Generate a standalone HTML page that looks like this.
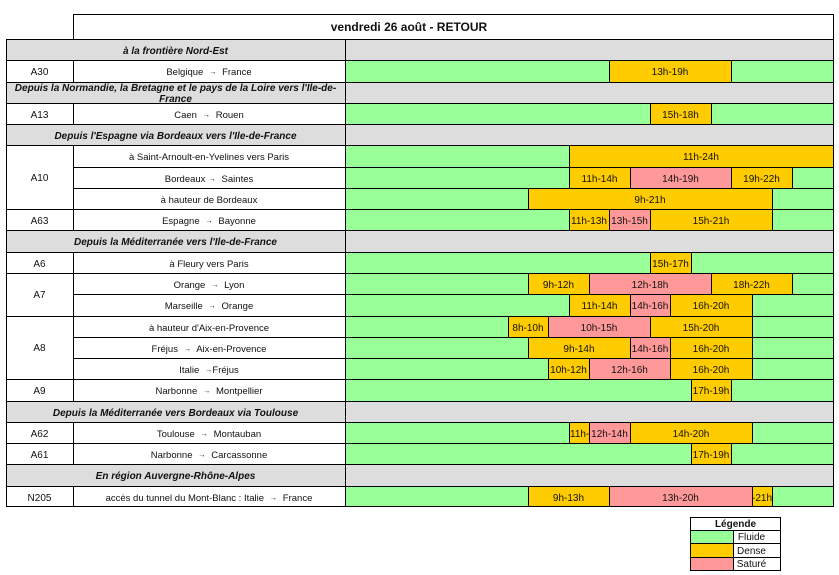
<!DOCTYPE html>
<html><head><meta charset="utf-8">
<style>
body{margin:0;width:839px;height:575px;background:#fff;position:relative;overflow:hidden;font-family:"Liberation Sans",Arial,sans-serif;color:#111}
.a{position:absolute}
.t{position:absolute;text-align:center;white-space:nowrap;overflow:hidden;font-size:10px}
.c2{font-size:9.5px}
.hd{font-weight:bold;font-style:italic;font-size:10px}
.g{background:#dddddd}
.gr{background:#99ff99}
.o{background:#ffcc00}
.p{background:#ff9999}
.l{position:absolute;background:#000}
.ar{font-size:7.5px;margin:0 3px;line-height:0;position:relative;top:-1px}
</style></head><body>

<!-- title -->
<div class="l" style="left:73px;top:14px;width:761px;height:1px"></div>
<div class="l" style="left:73px;top:14px;width:1px;height:25px"></div>
<div class="l" style="left:833px;top:14px;width:1px;height:25px"></div>
<div class="t" style="left:300px;top:20px;width:218px;height:15px;line-height:15px;font-size:12px;font-weight:bold">vendredi 26 août - RETOUR</div>

<!-- base fills -->
<div class="a gr" style="left:345px;top:39px;width:488px;height:468px"></div>
<div class="a g" style="left:6px;top:39px;width:827px;height:21px"></div>
<div class="a g" style="left:6px;top:82px;width:827px;height:21px"></div>
<div class="a g" style="left:6px;top:124px;width:827px;height:21px"></div>
<div class="a g" style="left:6px;top:230px;width:827px;height:22px"></div>
<div class="a g" style="left:6px;top:401px;width:827px;height:21px"></div>
<div class="a g" style="left:6px;top:464px;width:827px;height:22px"></div>

<!-- segments -->
<div class="t o" style="left:609px;top:60px;width:122px;height:22px;line-height:26px">13h-19h</div>
<div class="t o" style="left:650px;top:103px;width:61px;height:21px;line-height:25px">15h-18h</div>
<div class="t o" style="left:569px;top:145px;width:264px;height:22px;line-height:26px">11h-24h</div>
<div class="t o" style="left:569px;top:167px;width:61px;height:21px;line-height:25px">11h-14h</div>
<div class="t p" style="left:630px;top:167px;width:101px;height:21px;line-height:25px">14h-19h</div>
<div class="t o" style="left:731px;top:167px;width:61px;height:21px;line-height:25px">19h-22h</div>
<div class="t o" style="left:528px;top:188px;width:244px;height:21px;line-height:25px">9h-21h</div>
<div class="t o" style="left:569px;top:209px;width:40px;height:21px;line-height:25px">11h-13h</div>
<div class="t p" style="left:609px;top:209px;width:41px;height:21px;line-height:25px">13h-15h</div>
<div class="t o" style="left:650px;top:209px;width:122px;height:21px;line-height:25px">15h-21h</div>
<div class="t o" style="left:650px;top:252px;width:41px;height:21px;line-height:25px">15h-17h</div>
<div class="t o" style="left:528px;top:273px;width:61px;height:21px;line-height:25px">9h-12h</div>
<div class="t p" style="left:589px;top:273px;width:122px;height:21px;line-height:25px">12h-18h</div>
<div class="t o" style="left:711px;top:273px;width:81px;height:21px;line-height:25px">18h-22h</div>
<div class="t o" style="left:569px;top:294px;width:61px;height:22px;line-height:26px">11h-14h</div>
<div class="t p" style="left:630px;top:294px;width:40px;height:22px;line-height:26px">14h-16h</div>
<div class="t o" style="left:670px;top:294px;width:82px;height:22px;line-height:26px">16h-20h</div>
<div class="t o" style="left:508px;top:316px;width:40px;height:21px;line-height:25px">8h-10h</div>
<div class="t p" style="left:548px;top:316px;width:102px;height:21px;line-height:25px">10h-15h</div>
<div class="t o" style="left:650px;top:316px;width:102px;height:21px;line-height:25px">15h-20h</div>
<div class="t o" style="left:528px;top:337px;width:102px;height:21px;line-height:25px">9h-14h</div>
<div class="t p" style="left:630px;top:337px;width:40px;height:21px;line-height:25px">14h-16h</div>
<div class="t o" style="left:670px;top:337px;width:82px;height:21px;line-height:25px">16h-20h</div>
<div class="t o" style="left:548px;top:358px;width:41px;height:21px;line-height:25px">10h-12h</div>
<div class="t p" style="left:589px;top:358px;width:81px;height:21px;line-height:25px">12h-16h</div>
<div class="t o" style="left:670px;top:358px;width:82px;height:21px;line-height:25px">16h-20h</div>
<div class="t o" style="left:691px;top:379px;width:40px;height:22px;line-height:26px">17h-19h</div>
<div class="t o" style="left:569px;top:422px;width:20px;height:21px;line-height:25px;text-align:left;padding-left:1px;box-sizing:border-box">11h-12h</div>
<div class="t p" style="left:589px;top:422px;width:41px;height:21px;line-height:25px">12h-14h</div>
<div class="t o" style="left:630px;top:422px;width:122px;height:21px;line-height:25px">14h-20h</div>
<div class="t o" style="left:691px;top:443px;width:40px;height:21px;line-height:25px">17h-19h</div>
<div class="t o" style="left:528px;top:486px;width:81px;height:21px;line-height:25px">9h-13h</div>
<div class="t p" style="left:609px;top:486px;width:143px;height:21px;line-height:25px">13h-20h</div>
<div class="t o" style="left:752px;top:486px;width:20px;height:21px;line-height:25px;direction:rtl;text-align:right"><span style="direction:ltr;unicode-bidi:embed">-21h</span></div>

<!-- segment vertical lines -->
<div class="l" style="left:609px;top:60px;width:1px;height:22px"></div>
<div class="l" style="left:731px;top:60px;width:1px;height:22px"></div>
<div class="l" style="left:650px;top:103px;width:1px;height:21px"></div>
<div class="l" style="left:711px;top:103px;width:1px;height:21px"></div>
<div class="l" style="left:569px;top:145px;width:1px;height:22px"></div>
<div class="l" style="left:569px;top:167px;width:1px;height:21px"></div>
<div class="l" style="left:630px;top:167px;width:1px;height:21px"></div>
<div class="l" style="left:731px;top:167px;width:1px;height:21px"></div>
<div class="l" style="left:792px;top:167px;width:1px;height:21px"></div>
<div class="l" style="left:528px;top:188px;width:1px;height:21px"></div>
<div class="l" style="left:772px;top:188px;width:1px;height:21px"></div>
<div class="l" style="left:569px;top:209px;width:1px;height:21px"></div>
<div class="l" style="left:609px;top:209px;width:1px;height:21px"></div>
<div class="l" style="left:650px;top:209px;width:1px;height:21px"></div>
<div class="l" style="left:772px;top:209px;width:1px;height:21px"></div>
<div class="l" style="left:650px;top:252px;width:1px;height:21px"></div>
<div class="l" style="left:691px;top:252px;width:1px;height:21px"></div>
<div class="l" style="left:528px;top:273px;width:1px;height:21px"></div>
<div class="l" style="left:589px;top:273px;width:1px;height:21px"></div>
<div class="l" style="left:711px;top:273px;width:1px;height:21px"></div>
<div class="l" style="left:792px;top:273px;width:1px;height:21px"></div>
<div class="l" style="left:569px;top:294px;width:1px;height:22px"></div>
<div class="l" style="left:630px;top:294px;width:1px;height:22px"></div>
<div class="l" style="left:670px;top:294px;width:1px;height:22px"></div>
<div class="l" style="left:752px;top:294px;width:1px;height:22px"></div>
<div class="l" style="left:508px;top:316px;width:1px;height:21px"></div>
<div class="l" style="left:548px;top:316px;width:1px;height:21px"></div>
<div class="l" style="left:650px;top:316px;width:1px;height:21px"></div>
<div class="l" style="left:752px;top:316px;width:1px;height:21px"></div>
<div class="l" style="left:528px;top:337px;width:1px;height:21px"></div>
<div class="l" style="left:630px;top:337px;width:1px;height:21px"></div>
<div class="l" style="left:670px;top:337px;width:1px;height:21px"></div>
<div class="l" style="left:752px;top:337px;width:1px;height:21px"></div>
<div class="l" style="left:548px;top:358px;width:1px;height:21px"></div>
<div class="l" style="left:589px;top:358px;width:1px;height:21px"></div>
<div class="l" style="left:670px;top:358px;width:1px;height:21px"></div>
<div class="l" style="left:752px;top:358px;width:1px;height:21px"></div>
<div class="l" style="left:691px;top:379px;width:1px;height:22px"></div>
<div class="l" style="left:731px;top:379px;width:1px;height:22px"></div>
<div class="l" style="left:569px;top:422px;width:1px;height:21px"></div>
<div class="l" style="left:589px;top:422px;width:1px;height:21px"></div>
<div class="l" style="left:630px;top:422px;width:1px;height:21px"></div>
<div class="l" style="left:752px;top:422px;width:1px;height:21px"></div>
<div class="l" style="left:691px;top:443px;width:1px;height:21px"></div>
<div class="l" style="left:731px;top:443px;width:1px;height:21px"></div>
<div class="l" style="left:528px;top:486px;width:1px;height:21px"></div>
<div class="l" style="left:609px;top:486px;width:1px;height:21px"></div>
<div class="l" style="left:752px;top:486px;width:1px;height:21px"></div>
<div class="l" style="left:772px;top:486px;width:1px;height:21px"></div>

<!-- header texts -->
<div class="t hd" style="left:6px;top:39px;width:339px;height:21px;line-height:25px">à la frontière Nord-Est</div>
<div class="t hd" style="left:6px;top:83px;width:339px;height:20px;line-height:10.5px;padding-top:1px;box-sizing:border-box">Depuis la Normandie, la Bretagne et le pays de la Loire vers l'Ile-de-<br>France</div>
<div class="t hd" style="left:6px;top:124px;width:339px;height:21px;line-height:25px">Depuis l'Espagne via Bordeaux vers l'Ile-de-France</div>
<div class="t hd" style="left:6px;top:230px;width:339px;height:22px;line-height:26px">Depuis la Méditerranée vers l'Ile-de-France</div>
<div class="t hd" style="left:6px;top:401px;width:339px;height:21px;line-height:25px">Depuis la Méditerranée vers Bordeaux via Toulouse</div>
<div class="t hd" style="left:6px;top:464px;width:339px;height:22px;line-height:26px">En région Auvergne-Rhône-Alpes</div>

<!-- column 1 labels -->
<div class="t" style="left:6px;top:60px;width:67px;height:22px;line-height:26px">A30</div>
<div class="t" style="left:6px;top:103px;width:67px;height:21px;line-height:25px">A13</div>
<div class="t" style="left:6px;top:145px;width:67px;height:64px;line-height:67px">A10</div>
<div class="t" style="left:6px;top:209px;width:67px;height:21px;line-height:25px">A63</div>
<div class="t" style="left:6px;top:252px;width:67px;height:21px;line-height:25px">A6</div>
<div class="t" style="left:6px;top:273px;width:67px;height:43px;line-height:46px">A7</div>
<div class="t" style="left:6px;top:316px;width:67px;height:63px;line-height:66px">A8</div>
<div class="t" style="left:6px;top:379px;width:67px;height:22px;line-height:26px">A9</div>
<div class="t" style="left:6px;top:422px;width:67px;height:21px;line-height:25px">A62</div>
<div class="t" style="left:6px;top:443px;width:67px;height:21px;line-height:25px">A61</div>
<div class="t" style="left:6px;top:486px;width:67px;height:21px;line-height:25px">N205</div>

<!-- column 2 texts -->
<div class="t c2" style="left:73px;top:60px;width:272px;height:22px;line-height:26px">Belgique <span class="ar">→</span> France</div>
<div class="t c2" style="left:73px;top:103px;width:272px;height:21px;line-height:25px">Caen <span class="ar">→</span> Rouen</div>
<div class="t c2" style="left:73px;top:145px;width:272px;height:22px;line-height:26px">à Saint-Arnoult-en-Yvelines vers Paris</div>
<div class="t c2" style="left:73px;top:167px;width:272px;height:21px;line-height:25px">Bordeaux<span class="ar">→</span> Saintes</div>
<div class="t c2" style="left:73px;top:188px;width:272px;height:21px;line-height:25px">à hauteur de Bordeaux</div>
<div class="t c2" style="left:73px;top:209px;width:272px;height:21px;line-height:25px">Espagne <span class="ar">→</span> Bayonne</div>
<div class="t c2" style="left:73px;top:252px;width:272px;height:21px;line-height:25px">à Fleury vers Paris</div>
<div class="t c2" style="left:73px;top:273px;width:272px;height:21px;line-height:25px">Orange <span class="ar">→</span> Lyon</div>
<div class="t c2" style="left:73px;top:294px;width:272px;height:22px;line-height:26px">Marseille <span class="ar">→</span> Orange</div>
<div class="t c2" style="left:73px;top:316px;width:272px;height:21px;line-height:25px">à hauteur d'Aix-en-Provence</div>
<div class="t c2" style="left:73px;top:337px;width:272px;height:21px;line-height:25px">Fréjus <span class="ar">→</span> Aix-en-Provence</div>
<div class="t c2" style="left:73px;top:358px;width:272px;height:21px;line-height:25px">Italie <span class="ar" style="margin-right:0">→</span>Fréjus</div>
<div class="t c2" style="left:73px;top:379px;width:272px;height:22px;line-height:26px">Narbonne <span class="ar">→</span> Montpellier</div>
<div class="t c2" style="left:73px;top:422px;width:272px;height:21px;line-height:25px">Toulouse <span class="ar">→</span> Montauban</div>
<div class="t c2" style="left:73px;top:443px;width:272px;height:21px;line-height:25px">Narbonne <span class="ar">→</span> Carcassonne</div>
<div class="t c2" style="left:73px;top:486px;width:272px;height:21px;line-height:25px">accès du tunnel du Mont-Blanc : Italie <span class="ar">→</span> France</div>

<!-- horizontal row lines -->
<div class="l" style="left:6px;top:39px;width:828px;height:1px"></div>
<div class="l" style="left:6px;top:60px;width:828px;height:1px"></div>
<div class="l" style="left:6px;top:82px;width:828px;height:1px"></div>
<div class="l" style="left:6px;top:103px;width:828px;height:1px"></div>
<div class="l" style="left:6px;top:124px;width:828px;height:1px"></div>
<div class="l" style="left:6px;top:145px;width:828px;height:1px"></div>
<div class="l" style="left:73px;top:167px;width:761px;height:1px"></div>
<div class="l" style="left:73px;top:188px;width:761px;height:1px"></div>
<div class="l" style="left:6px;top:209px;width:828px;height:1px"></div>
<div class="l" style="left:6px;top:230px;width:828px;height:1px"></div>
<div class="l" style="left:6px;top:252px;width:828px;height:1px"></div>
<div class="l" style="left:6px;top:273px;width:828px;height:1px"></div>
<div class="l" style="left:73px;top:294px;width:761px;height:1px"></div>
<div class="l" style="left:6px;top:316px;width:828px;height:1px"></div>
<div class="l" style="left:73px;top:337px;width:761px;height:1px"></div>
<div class="l" style="left:73px;top:358px;width:761px;height:1px"></div>
<div class="l" style="left:6px;top:379px;width:828px;height:1px"></div>
<div class="l" style="left:6px;top:401px;width:828px;height:1px"></div>
<div class="l" style="left:6px;top:422px;width:828px;height:1px"></div>
<div class="l" style="left:6px;top:443px;width:828px;height:1px"></div>
<div class="l" style="left:6px;top:464px;width:828px;height:1px"></div>
<div class="l" style="left:6px;top:486px;width:828px;height:1px"></div>
<div class="l" style="left:6px;top:506px;width:828px;height:1px"></div>

<!-- vertical lines -->
<div class="l" style="left:6px;top:39px;width:1px;height:468px"></div>
<div class="l" style="left:833px;top:39px;width:1px;height:468px"></div>
<div class="l" style="left:345px;top:39px;width:1px;height:468px"></div>
<div class="l" style="left:73px;top:60px;width:1px;height:22px"></div>
<div class="l" style="left:73px;top:103px;width:1px;height:21px"></div>
<div class="l" style="left:73px;top:145px;width:1px;height:85px"></div>
<div class="l" style="left:73px;top:252px;width:1px;height:149px"></div>
<div class="l" style="left:73px;top:422px;width:1px;height:42px"></div>
<div class="l" style="left:73px;top:486px;width:1px;height:21px"></div>

<!-- legend -->
<div class="a gr" style="left:690px;top:530px;width:43px;height:13px"></div>
<div class="a o" style="left:690px;top:543px;width:43px;height:14px"></div>
<div class="a p" style="left:690px;top:557px;width:43px;height:13px"></div>
<div class="l" style="left:690px;top:517px;width:91px;height:1px"></div>
<div class="l" style="left:690px;top:530px;width:91px;height:1px"></div>
<div class="l" style="left:690px;top:543px;width:91px;height:1px"></div>
<div class="l" style="left:690px;top:557px;width:91px;height:1px"></div>
<div class="l" style="left:690px;top:570px;width:91px;height:1px"></div>
<div class="l" style="left:690px;top:517px;width:1px;height:54px"></div>
<div class="l" style="left:780px;top:517px;width:1px;height:54px"></div>
<div class="l" style="left:733px;top:530px;width:1px;height:40px"></div>
<div class="t" style="left:690px;top:518px;width:91px;height:12px;line-height:14px;font-weight:bold">Légende</div>
<div class="t" style="left:733px;top:531px;width:37px;height:12px;line-height:14px">Fluide</div>
<div class="t" style="left:733px;top:544px;width:37px;height:13px;line-height:15px">Dense</div>
<div class="t" style="left:733px;top:558px;width:37px;height:12px;line-height:14px">Saturé</div>

</body></html>
